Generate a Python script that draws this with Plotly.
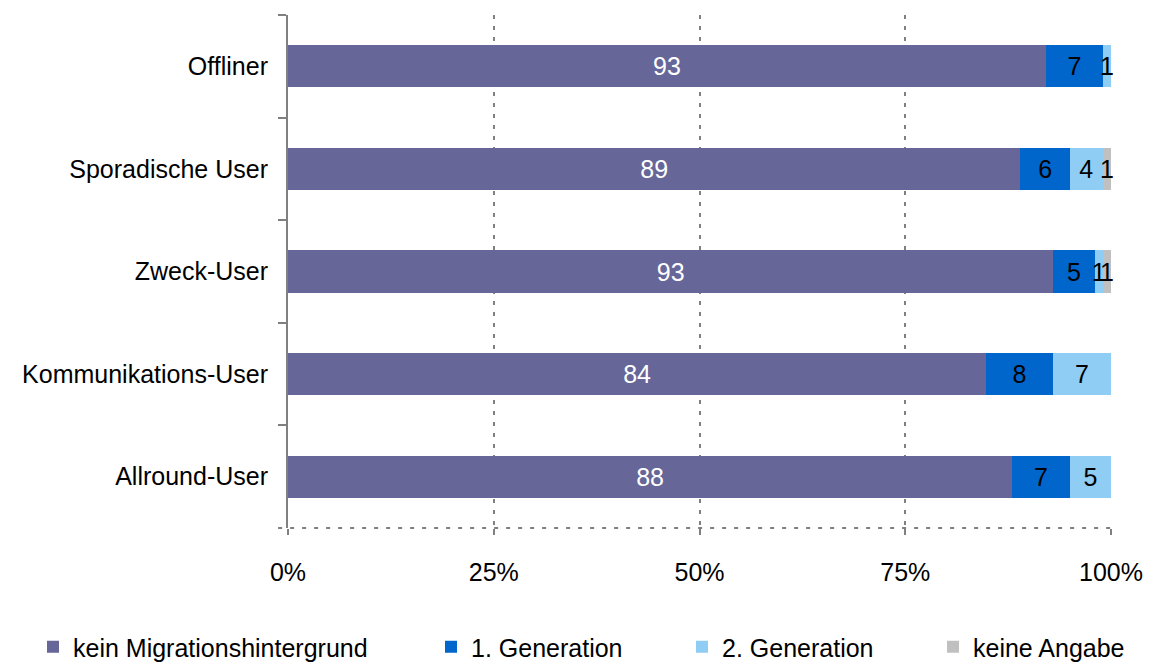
import plotly.graph_objects as go

categories = ["Offliner", "Sporadische User", "Zweck-User", "Kommunikations-User", "Allround-User"]
series_names = ["kein Migrationshintergrund", "1. Generation", "2. Generation", "keine Angabe"]
kein = [93, 89, 93, 84, 88]
gen1 = [7, 6, 5, 8, 7]
gen2 = [1, 4, 1, 7, 5]
keine = [0, 1, 1, 0, 0]
x_ticks = [0, 25, 50, 75, 100]
x_tick_labels = ["0%", "25%", "50%", "75%", "100%"]

colors = ["#666699", "#0066CC", "#8FCDF5", "#C0C0C0"]
text_colors = ["white", "black", "black", "black"]
legends = ["legend", "legend2", "legend2", "legend2"]
FONT = "Liberation Sans, Arial, sans-serif"
FS = 25

fig = go.Figure()
for name, vals, col, tcol, lg in zip(series_names, [kein, gen1, gen2, keine], colors, text_colors, legends):
    fig.add_trace(go.Bar(
        y=categories, x=vals, name=name, orientation="h",
        marker=dict(color=col, line=dict(width=0)),
        text=[str(v) if v else "" for v in vals],
        texttemplate="%{text}",
        textposition="inside", insidetextanchor="middle", textangle=0,
        constraintext="none",
        insidetextfont=dict(color=tcol, size=FS, family=FONT),
        cliponaxis=False,
        legend=lg,
        hoverinfo="skip",
    ))

legend_font = dict(family=FONT, size=FS, color="black")
fig.update_layout(
    barmode="stack", barnorm="percent", bargap=0.59,
    width=1153, height=662,
    margin=dict(l=288, r=42, t=15, b=134, autoexpand=False),
    paper_bgcolor="white", plot_bgcolor="white",
    font=dict(family=FONT, size=FS, color="black"),
    uniformtext=dict(minsize=FS, mode="show"),
    showlegend=True,
    legend=dict(
        orientation="h", xref="container", yref="container",
        x=33 / 1153, xanchor="left", y=(662 - 647) / 662, yanchor="middle",
        font=legend_font, itemwidth=30, bgcolor="rgba(0,0,0,0)",
    ),
    legend2=dict(
        orientation="h", xref="container", yref="container",
        x=431 / 1153, xanchor="left", y=(662 - 647) / 662, yanchor="middle",
        font=legend_font, itemwidth=30, entrywidth=206, entrywidthmode="pixels",
        traceorder="normal", bgcolor="rgba(0,0,0,0)",
    ),
    xaxis=dict(
        range=[0, 100.0001], tickvals=x_ticks, ticktext=x_tick_labels,
        showgrid=True, gridcolor="#808080", griddash="4px,7px", gridwidth=2,
        zeroline=False, showline=False,
        ticks="outside", ticklen=6, tickwidth=2, tickcolor="#808080",
        ticklabelstandoff=16,
        tickfont=dict(size=FS),
    ),
    yaxis=dict(
        categoryorder="array", categoryarray=categories, autorange="reversed",
        showline=True, linecolor="#808080", linewidth=2,
        ticks="outside", tickson="boundaries", ticklen=8, tickwidth=2, tickcolor="#808080",
        showgrid=False, ticklabelstandoff=13,
        tickfont=dict(size=FS),
    ),
)

# dotted baseline at the bottom of the plot area
fig.add_shape(type="line", xref="paper", yref="paper", x0=-0.012, x1=1, y0=0, y1=0,
              line=dict(color="#808080", width=2, dash="4px,8px"), layer="below")

fig.write_html("out.html")
